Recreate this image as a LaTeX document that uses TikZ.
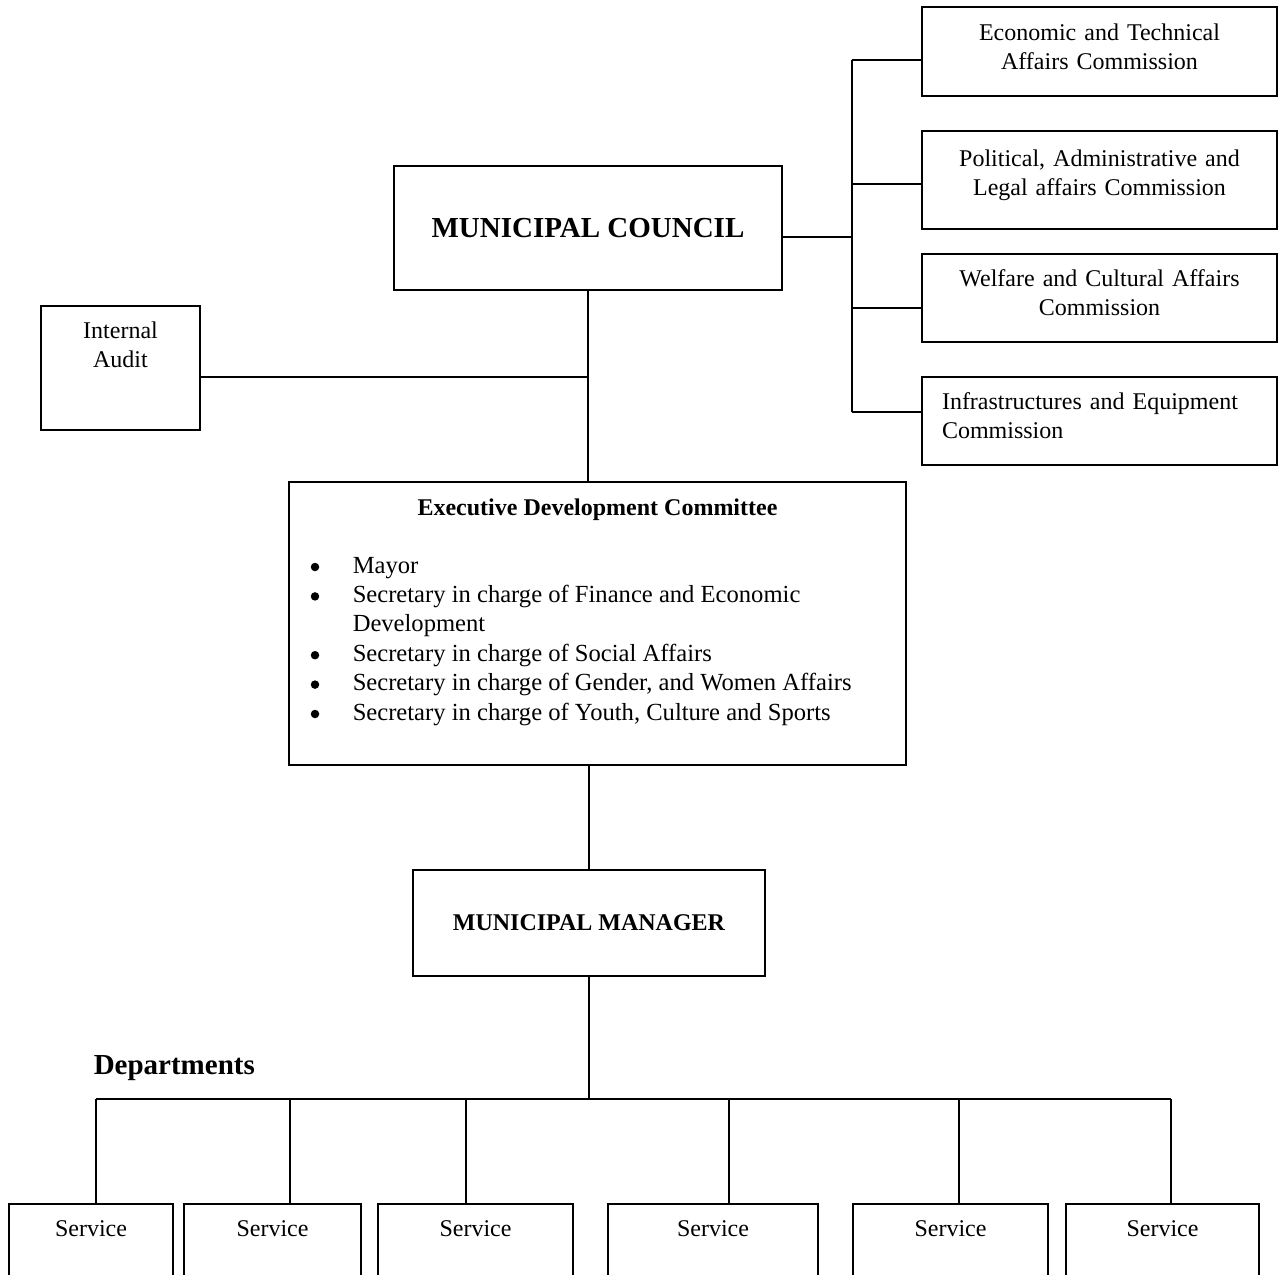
\documentclass[tikz,border=0pt]{standalone}
\usepackage{fontspec}
\setmainfont{Liberation Serif}
\usetikzlibrary{positioning}

\begin{document}
\begin{tikzpicture}[
      x=1pt,y=-1pt,line width=1.5pt,
      every node/.style={font=\fontsize{24}{29}\selectfont},
      box/.style={draw,line width=1.5pt,inner sep=0pt},
      txt/.style={inner sep=0pt},
      dot/.style={circle,fill,inner sep=0pt,minimum size=8.5pt}
    ]
    \useasboundingbox (0,0) rectangle (1282,1274);
    % council and the commissions
    \node [box,minimum width=388pt,minimum height=124pt,
      font=\bfseries\fontsize{29}{34}\selectfont] (council) at (588,228) {MUNICIPAL COUNCIL};
    \foreach \y/\h/\a/\t [count=\i] in {
        51.5/89/center/{Economic and Technical\\Affairs Commission},
        180/98/center/{Political, Administrative and\\Legal affairs Commission},
        298/88/center/{Welfare and Cultural Affairs\\Commission},
        421/88/left/{Infrastructures and Equipment\\Commission}} {
      \node [box,minimum width=355pt,minimum height=\h pt] (com\i) at (1099.5,\y) {};
      \node [txt,text width=315pt,align=\a,yshift=5pt] (comtxt\i) at (com\i) {\t};
    }
    \coordinate (cb) at (852,237);
    \draw (council.east |- cb) -- (cb);
    \foreach \y [count=\i] in {60,184,308,412} {
      \coordinate (b\i) at (852,\y);
      \draw (b\i) -- (b\i -| com\i.west);
    }
    \draw (b1) -- (b4);
    % internal audit
    \node [box,minimum width=159pt,minimum height=124pt] (audit) at (120.5,368) {};
    \node [txt,align=center,below=16pt of audit.north] (audittxt) {Internal\\Audit};
    % executive committee
    \node [box,minimum width=617pt,minimum height=283pt] (exec) at (597.5,623.5) {};
    \node [txt,font=\bfseries\fontsize{24}{29}\selectfont,below=17pt of exec.north] (exectitle) {Executive Development Committee};
    \foreach \k/\t in {0/Mayor,1/Secretary in charge of Finance and Economic,2/Development,
        3/Secretary in charge of Social Affairs,4/{Secretary in charge of Gender, and Women Affairs},
        5/{Secretary in charge of Youth, Culture and Sports}} {
      \node [txt,anchor=base west,font=\fontsize{24.6}{29}\selectfont] (item\k) at (352,573+29.4*\k) {\t};
    }
    \foreach \k in {0,1,3,4,5} {
      \node [dot] (dot\k) at (315,567+29.4*\k) {};
    }
    \coordinate (aj) at (588,377);
    \draw (council.south) -- (council.south |- exec.north);
    \draw (aj) -- (aj -| audit.east);
    % manager
    \node [box,minimum width=352pt,minimum height=106pt,font=\bfseries\fontsize{24}{29}\selectfont] (mgr) at (589,923) {MUNICIPAL MANAGER};
    \draw (mgr.north) -- (mgr.north |- exec.south);
    % departments
    \node [txt,anchor=base west,font=\bfseries\fontsize{29}{34}\selectfont] (dept) at (93,1074) {Departments};
    \foreach \l/\r/\dx [count=\i] in {9/173/96,184/361/290,378/573/466,608/818/729,853/1048/959,1066/1259/1171} {
      \node [box,minimum width=\r pt-\l pt,minimum height=96pt] (svc\i) at ({(\l+\r)/2},1252) {};
      \node [txt,anchor=base] (svctxt\i) at ([yshift=-33pt]svc\i.north) {Service};
      \coordinate (d\i) at (\dx,1099);
      \draw (d\i) -- (d\i |- svc\i.north);
    }
    \draw (d1) -- (d6);
    \draw (mgr.south) -- (mgr.south |- d1);
  \end{tikzpicture}
\end{document}
